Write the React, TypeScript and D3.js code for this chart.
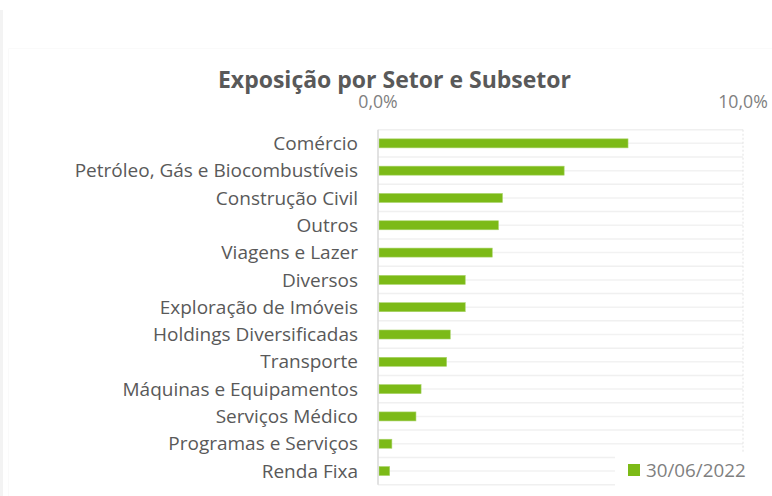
import { useEffect } from 'react'
import * as d3 from 'd3'

const CATEGORIES = [
  'Comércio',
  'Petróleo, Gás e Biocombustíveis',
  'Construção Civil',
  'Outros',
  'Viagens e Lazer',
  'Diversos',
  'Exploração de Imóveis',
  'Holdings Diversificadas',
  'Transporte',
  'Máquinas e Equipamentos',
  'Serviços Médico',
  'Programas e Serviços',
  'Renda Fixa',
]
const VALUES = [6.85, 5.1, 3.41, 3.3, 3.13, 2.39, 2.39, 1.98, 1.88, 1.18, 1.04, 0.38, 0.32]
const X_TICKS = [0, 10]
const SERIES_NAME = '30/06/2022'
const TITLE = 'Exposição por Setor e Subsetor'

const W = 772
const H = 496
const PLOT = { left: 378, right: 743, top: 129.7, bottom: 484.7 }
const GREEN = '#7cba17'
const FONT = '"Open Sans", "Noto Sans", sans-serif'

const fmt = (v: number) => v.toFixed(1).replace('.', ',') + '%'

export default function App() {
  useEffect(() => {
    document.body.style.margin = '0'
  }, [])

  const x = d3.scaleLinear().domain([0, 10]).range([PLOT.left, PLOT.right])
  const y = d3.scaleBand<string>().domain(CATEGORIES).range([PLOT.top, PLOT.bottom]).padding(0)
  const step = y.step()
  const barH = step * 0.33
  const boundaries = d3.range(CATEGORIES.length + 1).map(i => PLOT.top + i * step)

  return (
    <svg width={W} height={H} style={{ display: 'block', fontFamily: FONT }}>
      <rect width={W} height={H} fill="#fff" />
      {/* card edge */}
      <rect x={0} y={10} width={3} height={H - 10} fill="#f3f3f3" />
      <line x1={8.5} y1={48.5} x2={W} y2={48.5} stroke="#fafafa" />
      <line x1={8.5} y1={48.5} x2={8.5} y2={H} stroke="#fafafa" />

      <text x={394.5} y={88} textAnchor="middle" fontSize={23} fontWeight={700} fill="#595959">
        {TITLE}
      </text>

      {/* grid */}
      {boundaries.map((b, i) => (
        <line key={'b' + i} x1={PLOT.left} x2={PLOT.right} y1={b} y2={b} stroke="#f0f0f0" strokeWidth={1.5} />
      ))}
      {CATEGORIES.map(c => (
        <line key={'c' + c} x1={PLOT.left} x2={PLOT.right} y1={y(c)! + step / 2} y2={y(c)! + step / 2} stroke="#f2f2f2" strokeWidth={1.5} />
      ))}
      <line x1={x(10)} x2={x(10)} y1={PLOT.top} y2={PLOT.bottom} stroke="#e2e2e2" strokeDasharray="2,2" />

      {/* x tick labels */}
      {X_TICKS.map(t => (
        <text key={t} x={x(t)} y={108} textAnchor="middle" fontSize={17.7} fill="#7f7f7f">
          {fmt(t)}
        </text>
      ))}

      {/* bars */}
      {CATEGORIES.map((c, i) => (
        <rect
          key={c}
          x={x(0) + 1}
          y={y(c)! + (step - barH) / 2}
          width={x(VALUES[i]) - x(0) - 1}
          height={barH}
          fill={GREEN}
          stroke="#a9d46a"
          strokeWidth={0.6}
        />
      ))}

      {/* category labels */}
      {CATEGORIES.map(c => (
        <text key={'l' + c} x={358} y={y(c)! + step / 2} dy="0.35em" textAnchor="end" fontSize={19} fill="#595959">
          {c}
        </text>
      ))}

      <line x1={PLOT.left} x2={PLOT.left} y1={PLOT.top} y2={PLOT.bottom} stroke="#d9d9d9" strokeWidth={1.5} />

      {/* legend */}
      <rect x={615} y={453} width={W - 615} height={H - 453} fill="#fff" />
      <rect x={628} y={464} width={12} height={12} fill={GREEN} />
      <text x={646} y={470} dy="0.35em" fontSize={18.8} fill="#7f7f7f">
        {SERIES_NAME}
      </text>
    </svg>
  )
}
